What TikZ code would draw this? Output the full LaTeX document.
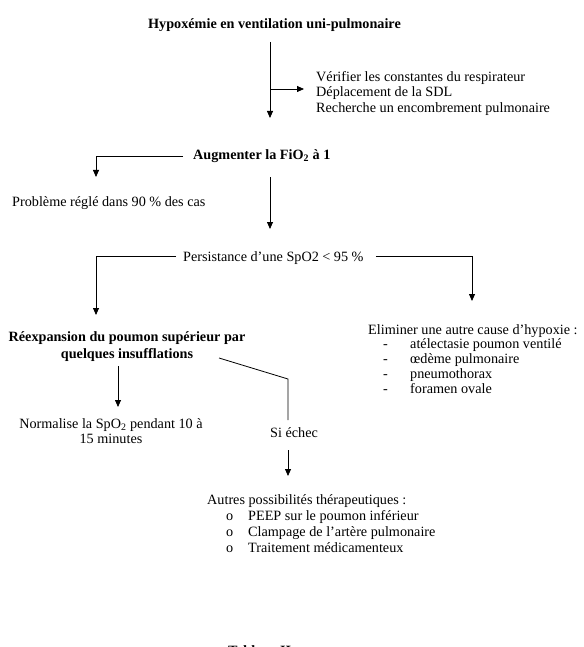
\documentclass[tikz,border=0pt]{standalone}
\usepackage{fontspec}
\setmainfont{Liberation Serif}
\usetikzlibrary{arrows.meta}
\begin{document}
\begin{tikzpicture}[x=1pt,y=-1pt,
  every node/.style={inner sep=0pt,font=\fontsize{14.2}{16.5}\selectfont},
  lbl/.style={anchor=base west},
  ctr/.style={anchor=base},
  bld/.style={font=\fontsize{14.2}{16.5}\selectfont\bfseries},
  conn/.style={line width=0.8pt},
  arr/.style={conn,-{Triangle[length=7pt,width=6pt]}}]
\useasboundingbox (0,0) rectangle (583,647);

% texts
\node[lbl,bld] (title) at (148,29) {Hypoxémie en ventilation uni-pulmonaire};
\node[lbl] (chk1) at (316,81.5) {Vérifier les constantes du respirateur};
\node[lbl] (chk2) at (316,97) {Déplacement de la SDL};
\node[lbl] (chk3) at (316,112.5) {Recherche un encombrement pulmonaire};
\node[lbl,bld] (aug) at (193,159.5) {Augmenter la FiO\textsubscript{2} à 1};
\node[lbl] (prob) at (12,206.5) {Problème réglé dans 90 \% des cas};
\node[lbl] (pers) at (183,261) {Persistance d’une SpO2 < 95 \%};
\node[ctr,bld] (reex1) at (127,341) {Réexpansion du poumon supérieur par};
\node[ctr,bld] (reex2) at (127,358) {quelques insufflations};
\node[ctr] (norm1) at (111,428.5) {Normalise la SpO\textsubscript{2} pendant 10 à};
\node[ctr] (norm2) at (111,443) {15 minutes};
\node[lbl] (si) at (270,437.5) {Si échec};
\node[lbl] (elim) at (368,334.5) {Eliminer une autre cause d’hypoxie :};
\foreach \t [count=\i] in {atélectasie poumon ventilé, œdème pulmonaire, pneumothorax, foramen ovale}{
  \node[lbl] (elimd\i) at (383,333.5+15*\i) {-};
  \node[lbl] (elim\i) at (410,333.5+15*\i) {\t};
}
\node[lbl] (autres) at (207,504.5) {Autres possibilités thérapeutiques :};
\foreach \t [count=\i] in {PEEP sur le poumon inférieur, Clampage de l’artère pulmonaire, Traitement médicamenteux}{
  \node[lbl] (autb\i) at (226,504.5+16*\i) {o};
  \node[lbl] (aut\i) at (248,504.5+16*\i) {\t};
}
\node[lbl,bld] (tab) at (228,655) {Tableau II};

% connector points
\coordinate (c1a) at (270,42);
\coordinate (c1b) at (270,118);
\coordinate (c2a) at (270,89);
\coordinate (c2b) at (304,89);
\coordinate (c3) at (96,177);
\coordinate (c4a) at (270,177);
\coordinate (c4b) at (270,229);
\coordinate (c5) at (96,315);
\coordinate (c6) at (472,301);
\coordinate (c7a) at (118,366);
\coordinate (c7b) at (118,407);
\coordinate (c8a) at (219,358);
\coordinate (c8b) at (288,379);
\coordinate (c8c) at (288,420);
\coordinate (c9a) at (288,450);
\coordinate (c9b) at (288,476);

% connectors
\draw[arr] (c1a) -- (c1b);
\draw[arr] (c2a) -- (c2b);
\draw[arr] ([xshift=-10pt]aug.west) -| (c3);
\draw[arr] (c4a) -- (c4b);
\draw[arr] ([xshift=-7pt,yshift=1pt]pers.west) -| (c5);
\draw[arr] ([xshift=12pt,yshift=1pt]pers.east) -| (c6);
\draw[arr] (c7a) -- (c7b);
\draw[conn] (c8a) -- (c8b) -- (c8c);
\draw[arr] (c9a) -- (c9b);
\end{tikzpicture}
\end{document}
